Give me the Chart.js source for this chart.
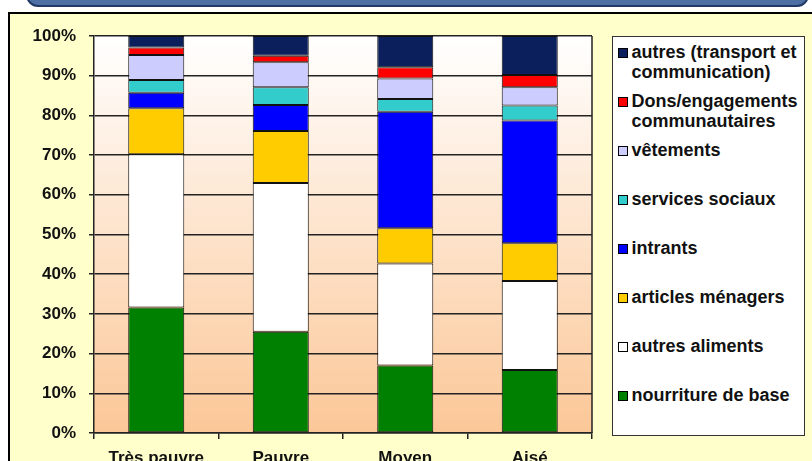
<!DOCTYPE html>
<html lang="fr">
<head>
<meta charset="utf-8">
<title>Dépenses par groupe de richesse</title>
<script src="https://cdn.jsdelivr.net/npm/chart.js@4.4.1/dist/chart.umd.min.js"></script>
<style>
  html, body { margin: 0; padding: 0; background: #fff; overflow: hidden; }
  body { width: 812px; height: 461px; position: relative; font-family: "Liberation Sans", Arial, sans-serif; }
  #banner {
    position: absolute; left: 26px; top: -30px; width: 779px; height: 33px;
    background: #4E6FA3; border: 2px solid #1F3864; border-radius: 12px;
  }
  #frame {
    position: absolute; left: 8px; top: 12px; width: 900px; height: 600px;
    background: #FFFFCC; border: 2px solid #000;
  }
  #chart { position: absolute; left: 0; top: 0; }
  #legend {
    position: absolute; left: 612px; top: 36px; width: 191px; height: 393px;
    background: #fff; border: 1.5px solid #333; padding-top: 5px; box-sizing: content-box;
  }
  .item { display: flex; align-items: flex-start; height: 49px; }
  .swatch { width: 8px; height: 8px; border: 1px solid #000; margin: 6px 4px 0 4.5px; flex: none; }
  .text { font-weight: bold; font-size: 18px; line-height: 20px; color: #111; width: 172px; }
</style>
</head>
<body>
<div id="banner"></div>
<div id="frame"></div>
<canvas id="chart" width="812" height="461"></canvas>
<div id="legend"></div>
<script>
const categories = ['Très pauvre', 'Pauvre', 'Moyen', 'Aisé'];
const yTicks = [0, 10, 20, 30, 40, 50, 60, 70, 80, 90, 100];

// part des dépenses (%) par poste, de bas en haut de la colonne
const nourritureBase = [31.6, 25.5, 17.0, 15.9];
const autresAliments = [38.6, 37.5, 25.7, 22.4];
const articlesMenagers = [11.6, 13.1, 8.9, 9.5];
const intrants = [3.9, 6.5, 29.3, 30.9];
const servicesSociaux = [3.2, 4.5, 3.2, 3.8];
const vetements = [6.3, 6.3, 5.2, 4.6];
const dons = [1.9, 1.6, 2.8, 3.1];
const autresTransport = [2.9, 5.0, 7.9, 9.8];

const series = [
  { label: 'nourriture de base', data: nourritureBase, color: '#008000' },
  { label: 'autres aliments', data: autresAliments, color: '#FFFFFF' },
  { label: 'articles ménagers', data: articlesMenagers, color: '#FFCC00' },
  { label: 'intrants', data: intrants, color: '#0000FF' },
  { label: 'services sociaux', data: servicesSociaux, color: '#33CCCC' },
  { label: 'vêtements', data: vetements, color: '#CCCCFF' },
  { label: 'Dons/engagements communautaires', data: dons, color: '#FF0000' },
  { label: 'autres (transport et communication)', data: autresTransport, color: '#0A1F5C' }
];

const plotBackground = {
  id: 'plotBackground',
  beforeDraw(chart) {
    const { ctx, chartArea: a } = chart;
    const g = ctx.createLinearGradient(0, a.top, 0, a.bottom);
    g.addColorStop(0, '#FFFFFF');
    g.addColorStop(1, '#FBC797');
    ctx.save();
    ctx.fillStyle = g;
    ctx.fillRect(a.left, a.top, a.width, a.height);
    ctx.restore();
  },
  beforeDatasetsDraw(chart) {
    const { ctx, chartArea: a } = chart;
    ctx.save();
    ctx.strokeStyle = '#222';
    ctx.lineWidth = 1.5;
    ctx.beginPath();
    ctx.moveTo(a.right, a.top);
    ctx.lineTo(a.right, a.bottom);
    ctx.stroke();
    ctx.restore();
  }
};

function buildLegend(chart) {
  const box = document.getElementById('legend');
  chart.data.datasets.slice().reverse().forEach(ds => {
    const item = document.createElement('div');
    item.className = 'item';
    const sw = document.createElement('span');
    sw.className = 'swatch';
    sw.style.background = ds.backgroundColor;
    const txt = document.createElement('span');
    txt.className = 'text';
    txt.textContent = ds.label;
    item.appendChild(sw);
    item.appendChild(txt);
    box.appendChild(item);
  });
}

const font = { family: '"Liberation Sans", Arial, sans-serif', size: 17, weight: 'bold' };

const chart = new Chart(document.getElementById('chart'), {
  type: 'bar',
  data: {
    labels: categories,
    datasets: series.map(s => ({
      label: s.label,
      data: s.data,
      backgroundColor: s.color,
      borderColor: '#111',
      borderWidth: 1,
      borderSkipped: false,
      barPercentage: 0.45,
      categoryPercentage: 1
    }))
  },
  options: {
    responsive: false,
    devicePixelRatio: 1,
    animation: false,
    layout: { padding: { top: 36, right: 220, bottom: 0, left: 0 } },
    plugins: {
      legend: { display: false },
      tooltip: { enabled: false }
    },
    scales: {
      x: {
        stacked: true,
        afterFit(scale) { scale.height = 28; },
        grid: { offset: true, drawOnChartArea: false, drawTicks: true, tickLength: 6, color: '#222', lineWidth: 1.5 },
        border: { color: '#222', width: 1.5 },
        ticks: { color: '#111', font: font, padding: 9, maxRotation: 0 }
      },
      y: {
        stacked: true,
        min: 0,
        max: 100,
        afterFit(scale) { scale.width = 94; },
        afterBuildTicks(scale) { scale.ticks = yTicks.map(v => ({ value: v })); },
        grid: { color: '#222', lineWidth: 1.5, tickLength: 5 },
        border: { color: '#222', width: 1.5 },
        ticks: { color: '#111', font: font, padding: 13, callback: v => v + '%' }
      }
    }
  },
  plugins: [plotBackground]
});

buildLegend(chart);
</script>
</body>
</html>
